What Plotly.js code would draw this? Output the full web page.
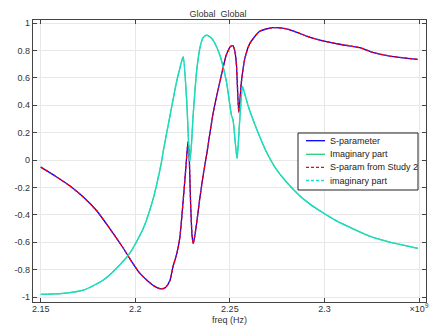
<!DOCTYPE html>
<html>
<head>
<meta charset="utf-8">
<script src="https://cdn.plot.ly/plotly-3.0.1.min.js"></script>
<style>html,body{margin:0;padding:0;background:#fff;}#chart{width:436px;height:327px;}</style>
</head>
<body>
<div id="chart"></div>
<script>
// frequency in units of 1e9 Hz
const freqRe = [2.1500,2.1580,2.1655,2.1725,2.1796,2.1865,2.1935,2.1971,2.2020,2.2060,2.2100,2.2135,2.2160,2.2183,2.2199,2.2220,2.2235,2.2251,2.2267,2.2273,2.2279,2.2285,2.2292,2.2300,2.2306,2.2315,2.2330,2.2341,2.2360,2.2376,2.2410,2.2447,2.2482,2.2505,2.2517,2.2527,2.2535,2.2547,2.2561,2.2579,2.2605,2.2658,2.2727,2.2799,2.2869,2.2904,2.2993,2.3081,2.3186,2.3255,2.3345,2.3493];
const realPart = [-0.052,-0.12,-0.19,-0.27,-0.37,-0.50,-0.64,-0.72,-0.82,-0.875,-0.92,-0.94,-0.93,-0.88,-0.78,-0.68,-0.57,-0.33,-0.06,0.05,0.134,0.02,-0.30,-0.55,-0.61,-0.55,-0.40,-0.28,-0.10,0.03,0.33,0.57,0.77,0.83,0.834,0.79,0.69,0.35,0.57,0.74,0.85,0.94,0.966,0.958,0.925,0.905,0.869,0.845,0.82,0.786,0.759,0.735];

const freqIm = [2.1500,2.1619,2.1725,2.1831,2.1901,2.1971,2.2042,2.2095,2.2139,2.2147,2.2183,2.2218,2.2241,2.2253,2.2271,2.2288,2.2296,2.2306,2.2324,2.2341,2.2357,2.2376,2.2394,2.2411,2.2447,2.2482,2.2508,2.2517,2.2538,2.2552,2.2567,2.2579,2.2605,2.2658,2.2700,2.2742,2.2799,2.2869,2.2922,2.2992,2.3059,2.3133,2.3195,2.3256,2.3320,2.3380,2.3494];
const imagPart = [-0.98,-0.973,-0.95,-0.876,-0.79,-0.68,-0.50,-0.28,-0.01,0.06,0.32,0.57,0.70,0.754,0.45,-0.01,0.10,0.33,0.645,0.815,0.89,0.912,0.90,0.876,0.766,0.57,0.33,0.29,0.012,0.29,0.535,0.48,0.36,0.17,0.04,-0.06,-0.16,-0.26,-0.32,-0.385,-0.44,-0.49,-0.53,-0.565,-0.59,-0.61,-0.645];

const seriesNames = ['S-parameter','Imaginary part','S-param from Study 2','imaginary part'];
const seriesColors = ['rgb(0,0,255)','rgb(40,205,120)','rgb(255,0,0)','rgb(25,222,205)'];
const xTickVals = [2.15,2.2,2.25,2.3,2.35];
const xTickText = ['2.15','2.2','2.25','2.3','×10<sup>9</sup>'];
const yTickVals = [-1,-0.8,-0.6,-0.4,-0.2,0,0.2,0.4,0.6,0.8,1];
const yTickText = ['-1','-0.8','-0.6','-0.4','-0.2','0','0.2','0.4','0.6','0.8','1'];

const FONT = 'Liberation Sans, Arial, sans-serif';
const shapeLine = {shape: 'spline', smoothing: 0.6};

const traces = [
  {x: freqRe, y: realPart, name: seriesNames[0], mode: 'lines', line: Object.assign({color: seriesColors[0], width: 1.3}, shapeLine)},
  {x: freqIm, y: imagPart, name: seriesNames[1], mode: 'lines', line: Object.assign({color: seriesColors[1], width: 1.3}, shapeLine)},
  {x: freqRe, y: realPart, name: seriesNames[2], mode: 'lines', line: Object.assign({color: seriesColors[2], width: 1.3, dash: '3px,2px'}, shapeLine)},
  {x: freqIm, y: imagPart, name: seriesNames[3], mode: 'lines', line: Object.assign({color: seriesColors[3], width: 1.3, dash: '6px,1px'}, shapeLine)}
];

// plot area in pixels: x 33..426, y 20..302
const PL = 33, PR = 426, PT = 20, PB = 302;
const px2x = p => (p - PL) / (PR - PL);
const py2y = p => (PB - p) / (PB - PT);

// custom legend (compact, like the reference)
const legBox = {x0: 298, x1: 418, y0: 133, y1: 190};
const legRows = [140.7, 154.3, 167.3, 180.5];
const legDash = ['solid', 'solid', '3px,2px', '3px,2px'];
const shapes = [{
  type: 'rect', xref: 'paper', yref: 'paper',
  x0: px2x(legBox.x0), x1: px2x(legBox.x1), y0: py2y(legBox.y1), y1: py2y(legBox.y0),
  fillcolor: '#fff', line: {color: '#222', width: 1}, layer: 'above'
}];
const annotations = [];
legRows.forEach((ry, i) => {
  shapes.push({type: 'line', xref: 'paper', yref: 'paper', x0: px2x(306), x1: px2x(325), y0: py2y(ry), y1: py2y(ry),
    line: {color: seriesColors[i], width: 1.3, dash: legDash[i]}, layer: 'above'});
  annotations.push({xref: 'paper', yref: 'paper', x: px2x(328), y: py2y(ry), xanchor: 'left', yanchor: 'middle',
    text: seriesNames[i], showarrow: false, font: {family: FONT, size: 9, color: '#222'}});
});
annotations.push({xref: 'paper', yref: 'paper', x: 0.5, y: py2y(320), xanchor: 'center', yanchor: 'middle',
  text: 'freq (Hz)', showarrow: false, font: {family: FONT, size: 9, color: '#333'}});

const axisCommon = {
  showline: true, linecolor: '#444', linewidth: 1.2, mirror: 'allticks',
  ticks: 'inside', ticklen: 4, tickcolor: '#444', tickwidth: 1,
  showgrid: true, gridcolor: '#e8e8e8', gridwidth: 1, zeroline: false,
  tickfont: {family: FONT, size: 9, color: '#333'}
};

const layout = {
  width: 436, height: 327,
  margin: {l: PL, r: 436 - PR, t: PT, b: 327 - PB},
  paper_bgcolor: '#fff', plot_bgcolor: '#fff',
  title: {text: 'Global  Global', font: {family: FONT, size: 9, color: '#333'}, x: 0.5, xanchor: 'center', y: 1 - 14 / 327, yanchor: 'middle'},
  xaxis: Object.assign({}, axisCommon, {
    range: [2.1459, 2.3537], tickmode: 'array', tickvals: xTickVals, ticktext: xTickText,
    ticklabelstandoff: -2
  }),
  yaxis: Object.assign({}, axisCommon, {
    range: [-1.036, 1.022], tickmode: 'array', tickvals: yTickVals, ticktext: yTickText
  }),
  showlegend: false,
  shapes: shapes,
  annotations: annotations
};

Plotly.newPlot('chart', traces, layout, {staticPlot: true, displayModeBar: false});
</script>
</body>
</html>
